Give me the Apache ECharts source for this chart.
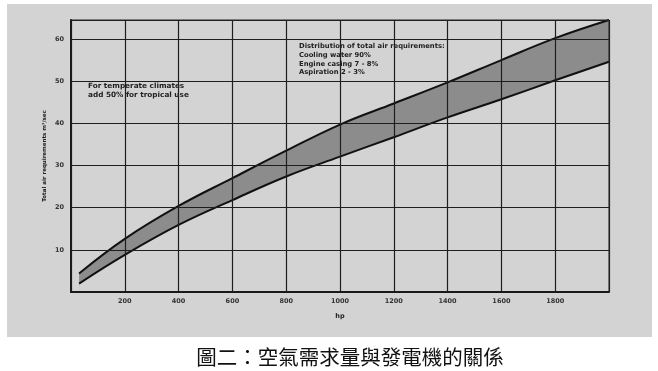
<!DOCTYPE html>
<html>
<head>
<meta charset="utf-8">
<script src="https://cdn.jsdelivr.net/npm/echarts@6/dist/echarts.min.js"></script>
<style>html,body{margin:0;padding:0;background:#fff;}#c{width:658px;height:371px;}</style>
</head>
<body>
<div id="c"></div>
<script>
// Data
var hp = [30, 200, 400, 600, 800, 1000, 1200, 1400, 1600, 1800, 2000];
var upperAir = [4.4, 12.6, 20.4, 27.0, 33.5, 39.7, 44.7, 49.7, 55.0, 60.2, 64.5];
var lowerAir = [2.0, 8.8, 15.9, 21.8, 27.4, 32.1, 36.7, 41.4, 45.7, 50.2, 54.6];
var xTicks = [200, 400, 600, 800, 1000, 1200, 1400, 1600, 1800];
var yTicks = [10, 20, 30, 40, 50, 60];

var lowerPts = hp.map(function (h, i) { return [h, lowerAir[i]]; });
var upperPts = hp.map(function (h, i) { return [h, upperAir[i]]; });

var ff = '"DejaVu Sans", "Liberation Sans", Arial, sans-serif';
var bg = '#d3d3d3';
var chart = echarts.init(document.getElementById('c'));
chart.setOption({
  backgroundColor: '#ffffff',
  animation: false,
  grid: { left: 71, right: 49, top: 20, bottom: 79, show: true, borderColor: '#222', borderWidth: 1, backgroundColor: 'transparent', z: 20 },
  xAxis: {
    type: 'value', min: 0, max: 2000, interval: 200, z: 10,
    name: 'hp', nameLocation: 'middle', nameGap: 21,
    nameTextStyle: { fontFamily: ff, fontSize: 6.5, fontWeight: 'bold', color: '#222' },
    axisLine: { show: true, lineStyle: { color: '#111', width: 2 } },
    axisTick: { show: false },
    axisLabel: {
      margin: 6, fontFamily: ff, fontSize: 6.5, fontWeight: 'bold', color: '#333',
      formatter: function (v) { return xTicks.indexOf(v) >= 0 ? String(v) : ''; }
    },
    splitLine: { show: true, lineStyle: { color: '#1e1e1e', width: 1.2 } }
  },
  yAxis: {
    type: 'value', min: 0, max: 64.5, interval: 10, z: 10,
    name: 'Total air requirements m\u00b3/sec', nameLocation: 'middle', nameGap: 23, nameMoveOverlap: false,
    nameTextStyle: { fontFamily: ff, fontSize: 5.5, fontWeight: 'bold', color: '#222' },
    axisLine: { show: true, lineStyle: { color: '#111', width: 2 } },
    axisTick: { show: false },
    axisLabel: {
      margin: 7, fontFamily: ff, fontSize: 6.5, fontWeight: 'bold', color: '#333',
      formatter: function (v) { return yTicks.indexOf(v) >= 0 ? String(v) : ''; }
    },
    splitLine: { show: true, lineStyle: { color: '#1e1e1e', width: 1.2 } }
  },
  series: [
    { type: 'line', data: upperPts, smooth: 0.4, symbol: 'none',
      lineStyle: { color: '#111', width: 2 }, areaStyle: { color: '#8c8c8c', opacity: 1, origin: 'start' }, z: 2 },
    { type: 'line', data: lowerPts, smooth: 0.4, symbol: 'none',
      lineStyle: { color: '#111', width: 2 }, areaStyle: { color: bg, opacity: 1, origin: 'start' }, z: 3 }
  ],
  graphic: [
    { type: 'rect', z: -10, silent: true, shape: { x: 7, y: 4, width: 645, height: 333 }, style: { fill: bg } },
    { type: 'text', left: 88, top: 82, z: 30, style: { text: 'For temperate climates\nadd 50% for tropical use', font: 'bold 7.3px ' + ff, fill: '#222', lineHeight: 8.5 } },
    { type: 'text', left: 299, top: 42, z: 30, style: { text: 'Distribution of total air requirements:\nCooling water 90%\nEngine casing 7 - 8%\nAspiration 2 - 3%', font: 'bold 6.8px ' + ff, fill: '#222', lineHeight: 8.7 } },
    { type: 'text', z: 30, style: { x: 350, y: 357, text: '圖二：空氣需求量與發電機的關係', font: '20.5px "Noto Sans CJK TC", sans-serif', fill: '#111', textAlign: 'center', textVerticalAlign: 'middle' } }
  ]
});
</script>
</body>
</html>
